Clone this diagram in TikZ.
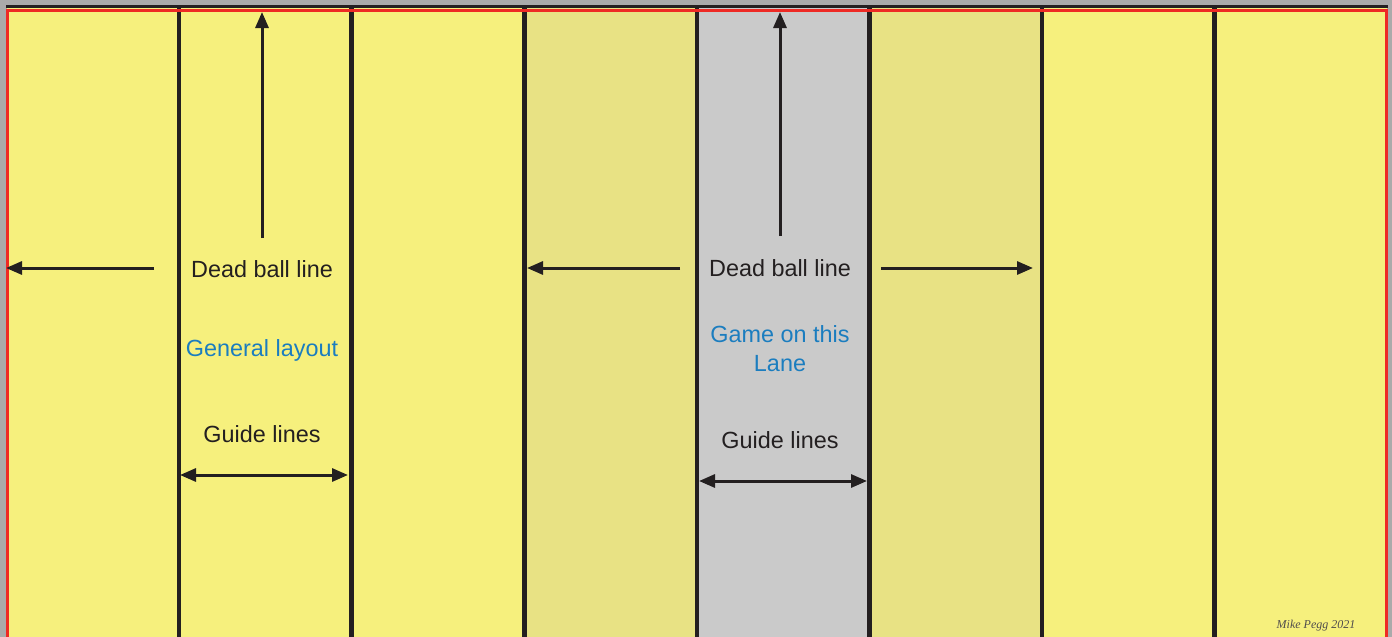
\documentclass[tikz,border=0pt]{standalone}
\usepackage{fontspec}
\setmainfont{Liberation Sans}
\newfontfamily\signfont{Liberation Serif}
\usepackage{xcolor}
\usetikzlibrary{arrows.meta,positioning}
\definecolor{laneyellow}{HTML}{F6F07D}
\definecolor{lanekhaki}{HTML}{E8E284}
\definecolor{lanegray}{HTML}{CACACA}
\definecolor{framegray}{HTML}{AAAAAA}
\definecolor{framered}{HTML}{EE2A24}
\definecolor{inkblack}{HTML}{231F20}
\definecolor{labelblue}{HTML}{1B7DBF}

\begin{document}
\begin{tikzpicture}[
  x=1pt, y=-1pt,
  font=\fontsize{23.4}{29}\selectfont,
  lbl/.style={inner sep=0pt, align=center, text=inkblack},
  bluelbl/.style={lbl, text=labelblue},
  laneline/.style={draw=inkblack, line width=4.5pt},
  arrow/.style={-{Triangle[length=16pt,width=13pt]}, line width=3pt, draw=inkblack},
  twoway/.style={{Triangle[length=16pt,width=13pt]}-{Triangle[length=16pt,width=13pt]}, line width=3pt, draw=inkblack}
]
\useasboundingbox (0,0) rectangle (1392,637);
\fill[framegray] (0,0) rectangle (1392,637);

% lanes
\foreach \i/\col in {0/laneyellow,1/laneyellow,2/laneyellow,3/lanekhaki,4/lanegray,5/lanekhaki,6/laneyellow,7/laneyellow}
  \fill[\col] ({6.5+172.6*\i},6) rectangle ({6.5+172.6*(\i+1)},637);
\foreach \i in {1,...,7}
  \draw[laneline] ({6.5+172.6*\i},5) -- ({6.5+172.6*\i},637);
\draw[draw=inkblack, line width=3pt] (6,6) -- (1388,6);
\draw[draw=framered, line width=3pt] (7,640) -- (7,10.5) -- (1386,10.5) -- (1386,640);

% labels
\node[lbl] (dead1) at (262,269) {Dead ball line};
\node[bluelbl] (layout1) at (262,350) {General layout};
\node[lbl] (guide1) at (262,434) {Guide lines};
\node[lbl] (dead2) at (780,268) {Dead ball line};
\node[bluelbl] (game2) at (780,349) {Game on this\\Lane};
\node[lbl] (guide2) at (780,440) {Guide lines};
\node[inner sep=0pt, text=inkblack!80, font=\signfont\itshape\fontsize{12}{14}\selectfont] (sign) at (1316,626) {Mike Pegg 2021};

% arrow ends
\coordinate (top1) at (262,12);
\coordinate (top2) at (780,12);
\coordinate (left1a) at (154,268);
\coordinate (left1b) at (6,268);
\coordinate (left2a) at (680,268);
\coordinate (left2b) at (527,268);
\coordinate (right2a) at (881,268);
\coordinate (right2b) at (1033,268);
\coordinate (gl1a) at (180,475);
\coordinate (gl1b) at (348,475);
\coordinate (gl2a) at (699,481);
\coordinate (gl2b) at (867,481);

\draw[arrow] ([yshift=22pt]dead1.north) -- (top1);
\draw[arrow] ([yshift=23pt]dead2.north) -- (top2);
\draw[arrow] (left1a) -- (left1b);
\draw[arrow] (left2a) -- (left2b);
\draw[arrow] (right2a) -- (right2b);
\draw[twoway] (gl1a) -- (gl1b);
\draw[twoway] (gl2a) -- (gl2b);
\end{tikzpicture}
\end{document}
